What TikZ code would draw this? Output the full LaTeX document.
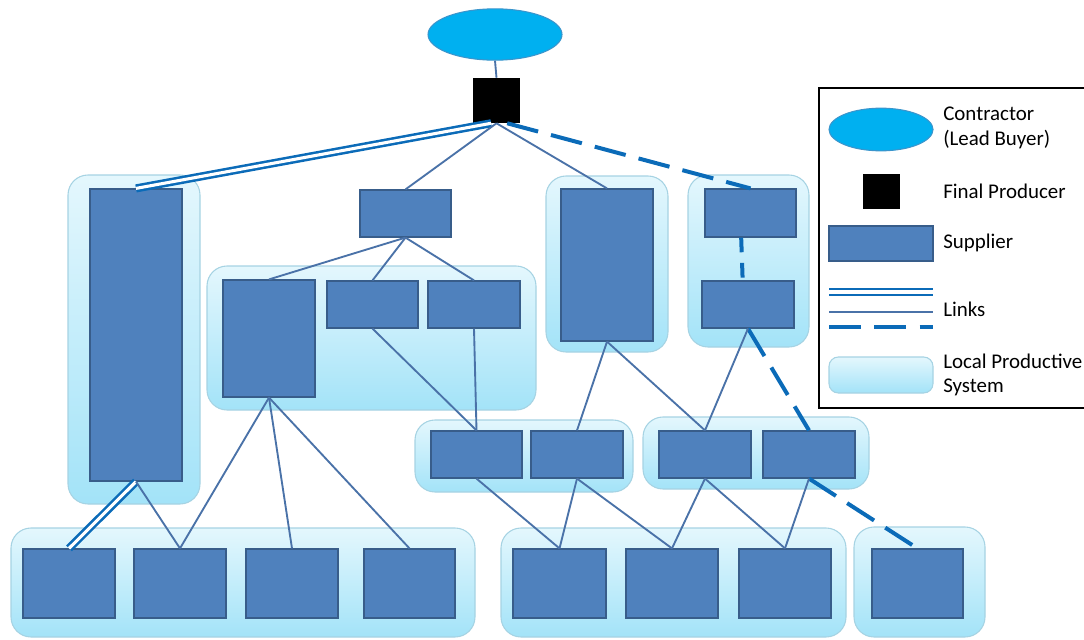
\documentclass[tikz,border=0pt]{standalone}
\usepackage{fontspec}
\setmainfont{Carlito}
\usetikzlibrary{shapes.geometric,fit}

\definecolor{supfill}{HTML}{4F81BD}
\definecolor{supline}{HTML}{385D8A}
\definecolor{thinlink}{HTML}{4A72A8}
\definecolor{strong}{HTML}{0B6BB8}
\definecolor{lpstop}{HTML}{E4F7FD}
\definecolor{lpsbot}{HTML}{A3E3F8}
\definecolor{lpsline}{HTML}{A6D3E3}
\definecolor{contr}{HTML}{00B0F0}
\definecolor{contrline}{HTML}{3A95CC}

\begin{document}
\begin{tikzpicture}[x=0.75pt,y=-0.75pt,
  sup/.style={draw=supline, fill=supfill, line width=0.9pt, inner sep=0pt},
  lps/.style={draw=lpsline, top color=lpstop, bottom color=lpsbot, rounded corners=15pt, line width=0.8pt, inner sep=0pt},
  prod/.style={fill=black, inner sep=0pt},
  contractor/.style={ellipse, draw=contrline, fill=contr, line width=0.8pt, inner sep=0pt},
  thin/.style={draw=thinlink, line width=1.4pt},
  dbl/.style={draw=strong, line width=1.9pt, double=white, double distance=2.3pt},
  dsh/.style={draw=strong, line width=3pt, dash pattern=on 24pt off 10pt},
  leg/.style={anchor=west, font=\fontsize{15.7pt}{18.5pt}\selectfont, align=left, inner sep=0pt}
]
\useasboundingbox (0,0) rectangle (1084,639);

% local productive systems
\node[lps, fit={(68,175)(200,504)}] (L1) {};
\node[lps, fit={(207,266)(536,410)}] (L2) {};
\node[lps, fit={(546,176)(668,352)}] (L3) {};
\node[lps, fit={(688,175)(809,347)}] (L4) {};
\node[lps, fit={(415,420)(633,492)}] (L5) {};
\node[lps, fit={(643,417)(869,489)}] (L6) {};
\node[lps, fit={(11,528)(475,637)}] (L7) {};
\node[lps, fit={(501,528)(846,637)}] (L8) {};
\node[lps, fit={(854,527)(985,637)}] (L9) {};

% contractor and final producer
\node[contractor, minimum width=100.5pt, minimum height=38.5pt] (C) at (495,34.5) {};
\node[prod, fit={(473,78)(520,123)}] (fp) {};

% suppliers
\node[sup, fit={(90,189)(182,481)}] (s1) {};
\node[sup, fit={(360,190)(451,237)}] (sT) {};
\node[sup, fit={(223,280)(315,397)}] (s2a) {};
\node[sup, fit={(327,281)(418,328)}] (s2b) {};
\node[sup, fit={(428,281)(520,328)}] (s2c) {};
\node[sup, fit={(561,189)(653,341)}] (s3) {};
\node[sup, fit={(705,189)(796,237)}] (s4a) {};
\node[sup, fit={(702,281)(794,328)}] (s4b) {};
\node[sup, fit={(431,431)(522,478)}] (s5a) {};
\node[sup, fit={(531,431)(623,478)}] (s5b) {};
\node[sup, fit={(659,431)(751,478)}] (s6a) {};
\node[sup, fit={(763,431)(855,478)}] (s6b) {};
\node[sup, fit={(23,549)(115,618)}] (s7a) {};
\node[sup, fit={(134,549)(226,618)}] (s7b) {};
\node[sup, fit={(246,549)(338,618)}] (s7c) {};
\node[sup, fit={(364,549)(455,618)}] (s7d) {};
\node[sup, fit={(513,549)(606,618)}] (s8a) {};
\node[sup, fit={(626,549)(718,618)}] (s8b) {};
\node[sup, fit={(739,549)(831,618)}] (s8c) {};
\node[sup, fit={(872,549)(963,618)}] (s9) {};

% links
\draw[thin] (C.south) -- (fp.north);
\draw[dbl] ([xshift=-4pt]fp.south) -- (s1.north);
\draw[thin] (fp.south) -- (sT.north);
\draw[thin] (fp.south) -- (s3.north);
\draw[dsh] ([xshift=8pt]fp.south) -- (s4a.north);
\draw[dsh, dash pattern=on 11pt off 8pt] ([xshift=-7pt]s4a.south) -- ([xshift=-4pt]s4b.north);
\draw[dsh] (s4b.south) -- (s6b.north);
\draw[dsh] (s6b.south) -- (s9.north);

\draw[thin] (sT.south) -- (s2a.north);
\draw[thin] (sT.south) -- (s2b.north);
\draw[thin] (sT.south) -- (s2c.north);
\draw[thin] (s2a.south) -- (s7b.north);
\draw[thin] (s2a.south) -- (s7c.north);
\draw[thin] (s2a.south) -- (s7d.north);
\draw[thin] (s2b.south) -- (s5a.north);
\draw[thin] (s2c.south) -- (s5a.north);
\draw[dbl] (s1.south) -- (s7a.north);
\draw[thin] (s1.south) -- (s7b.north);
\draw[thin] (s3.south) -- (s5b.north);
\draw[thin] (s3.south) -- (s6a.north);
\draw[thin] (s4b.south) -- (s6a.north);
\draw[thin] (s5a.south) -- (s8a.north);
\draw[thin] (s5b.south) -- (s8a.north);
\draw[thin] (s5b.south) -- (s8b.north);
\draw[thin] (s6a.south) -- (s8b.north);
\draw[thin] (s6a.south) -- (s8c.north);
\draw[thin] (s6b.south) -- (s8c.north);

% legend
\draw[line width=1pt] (1095,88) -- (819,88) -- (819,408) -- (1095,408);
\node[contractor, minimum width=78pt, minimum height=32pt] (lgC) at (881,129.5) {};
\node[prod, fit={(863,174)(900,209)}] (lgF) {};
\node[sup, fit={(829,226)(933,261)}] (lgS) {};
\coordinate (lgDa) at (829,292);
\coordinate (lgDb) at (933,292);
\coordinate (lgTa) at (829,312);
\coordinate (lgTb) at (933,312);
\coordinate (lgKa) at (829,327);
\coordinate (lgKb) at (933,327);
\draw[dbl] (lgDa) -- (lgDb);
\draw[thin] (lgTa) -- (lgTb);
\draw[dsh] (lgKa) -- (lgKb);
\node[lps, rounded corners=7pt, fit={(829,357)(933,393)}] (lgL) {};

\node[leg] (tC) at (943,128) {Contractor\\(Lead Buyer)};
\node[leg] (tF) at (943,191) {Final Producer};
\node[leg] (tS) at (943,243) {Supplier};
\node[leg] (tK) at (943,309) {Links};
\node[leg] (tL) at (943,375) {Local Productive\\System};
\end{tikzpicture}
\end{document}
